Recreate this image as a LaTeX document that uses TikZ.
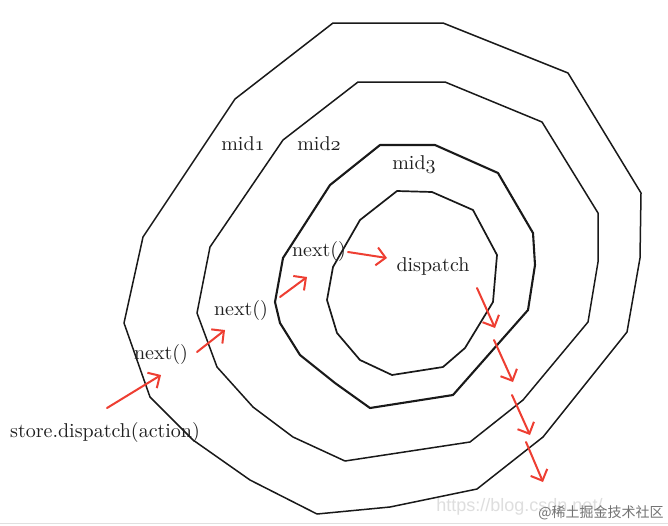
\documentclass[tikz,border=0pt]{standalone}
\usepackage{fontspec}
\newfontfamily\cjkfont{Noto Sans CJK SC}
\newfontfamily\wmfont{Liberation Sans}
\usetikzlibrary{arrows.meta}
\definecolor{redarrow}{RGB}{238,62,50}
\definecolor{txt}{RGB}{32,32,32}
\begin{document}
\begin{tikzpicture}[x=0.5pt,y=-0.5pt,
  ring/.style={line width=0.75pt, line join=round, draw=black!90},
  lbl/.style={text=txt, font=\fontsize{10}{12}\selectfont, inner sep=0pt},
  redarr/.style={draw=redarrow, line width=1pt, line cap=round, -{Straight Barb[length=4.5pt,width=9pt,line width=1pt]}}]
\useasboundingbox (0,0) rectangle (668,525);
\fill[white] (0,0) rectangle (668,525);
\draw[black!12, line width=0.6pt] (0,523.5) -- (668,523.5);

% rings
\draw[ring] (333,23) -- (443,23) -- (568,73) -- (641,193) -- (640,258) -- (627,332)
  -- (543,437) -- (477,489) -- (390,507) -- (317,514) -- (250,480) -- (193,440)
  -- (150,397) -- (124,323) -- (143,237) -- (235,99) -- cycle;
\draw[ring] (358,82) -- (445,82) -- (542,122) -- (598,213) -- (598,262) -- (588,322)
  -- (523,400) -- (470,442) -- (345,461) -- (293,437) -- (253,407) -- (217,367)
  -- (197,313) -- (210,247) -- (283,140) -- cycle;
\draw[ring, line width=1.05pt] (380,145) -- (435,145) -- (498,173) -- (533,233) -- (535,265)
  -- (528,310) -- (453,395) -- (370,408) -- (335,383) -- (300,355) -- (280,323)
  -- (275,302) -- (283,258) -- (330,185) -- cycle;
\draw[ring, line width=0.85pt] (397,191) -- (432,192) -- (473,210) -- (497,255) -- (493,302)
  -- (465,348) -- (443,367) -- (392,375) -- (360,360) -- (337,333) -- (327,300)
  -- (333,267) -- (360,220) -- cycle;

% labels
\node[lbl] (mid1) at (243,144) {mid$\mathnormal{1}$};
\node[lbl] (mid2) at (319,144) {mid$\mathnormal{2}$};
\node[lbl] (mid3) at (414,164) {mid$\mathnormal{3}$};
\node[lbl] (disp) at (433,266) {dispatch};
\node[lbl] (n3) at (319,251) {next()};
\node[lbl] (n2) at (241,310) {next()};
\node[lbl] (n1) at (161,354) {next()};
\node[lbl] (store) at (105,432) {store.dispatch(action)};

% arrow end points
\coordinate (a1s) at (107,408); \coordinate (a1e) at (161,375);
\coordinate (a2s) at (197,352); \coordinate (a2e) at (225,330);
\coordinate (a3s) at (280,297); \coordinate (a3e) at (307,277);
\coordinate (a4s) at (348,252); \coordinate (a4e) at (387,258);
\coordinate (d1s) at (477,288); \coordinate (d1e) at (495,328);
\coordinate (d2s) at (494,340); \coordinate (d2e) at (513,382);
\coordinate (d3s) at (512,395); \coordinate (d3e) at (530,435);
\coordinate (d4s) at (526,442); \coordinate (d4e) at (543,482);

\draw[redarr] (a1s) -- (a1e);
\draw[redarr] (a2s) -- (a2e);
\draw[redarr] (a3s) -- (a3e);
\draw[redarr] (a4s) -- (a4e);
\draw[redarr] (d1s) -- (d1e);
\draw[redarr] (d2s) -- (d2e);
\draw[redarr] (d3s) -- (d3e);
\draw[redarr] (d4s) -- (d4e);

% watermarks
\node[text=black!13, font=\wmfont\fontsize{9}{10}\selectfont, anchor=west, inner sep=0pt] (wm1) at (436,507) {https://blog.csdn.net/};
\node[text=black!55, font=\cjkfont\fontsize{7}{8}\selectfont, anchor=east, inner sep=0pt] (wm2) at (664,513) {@稀土掘金技术社区};
\end{tikzpicture}
\end{document}
